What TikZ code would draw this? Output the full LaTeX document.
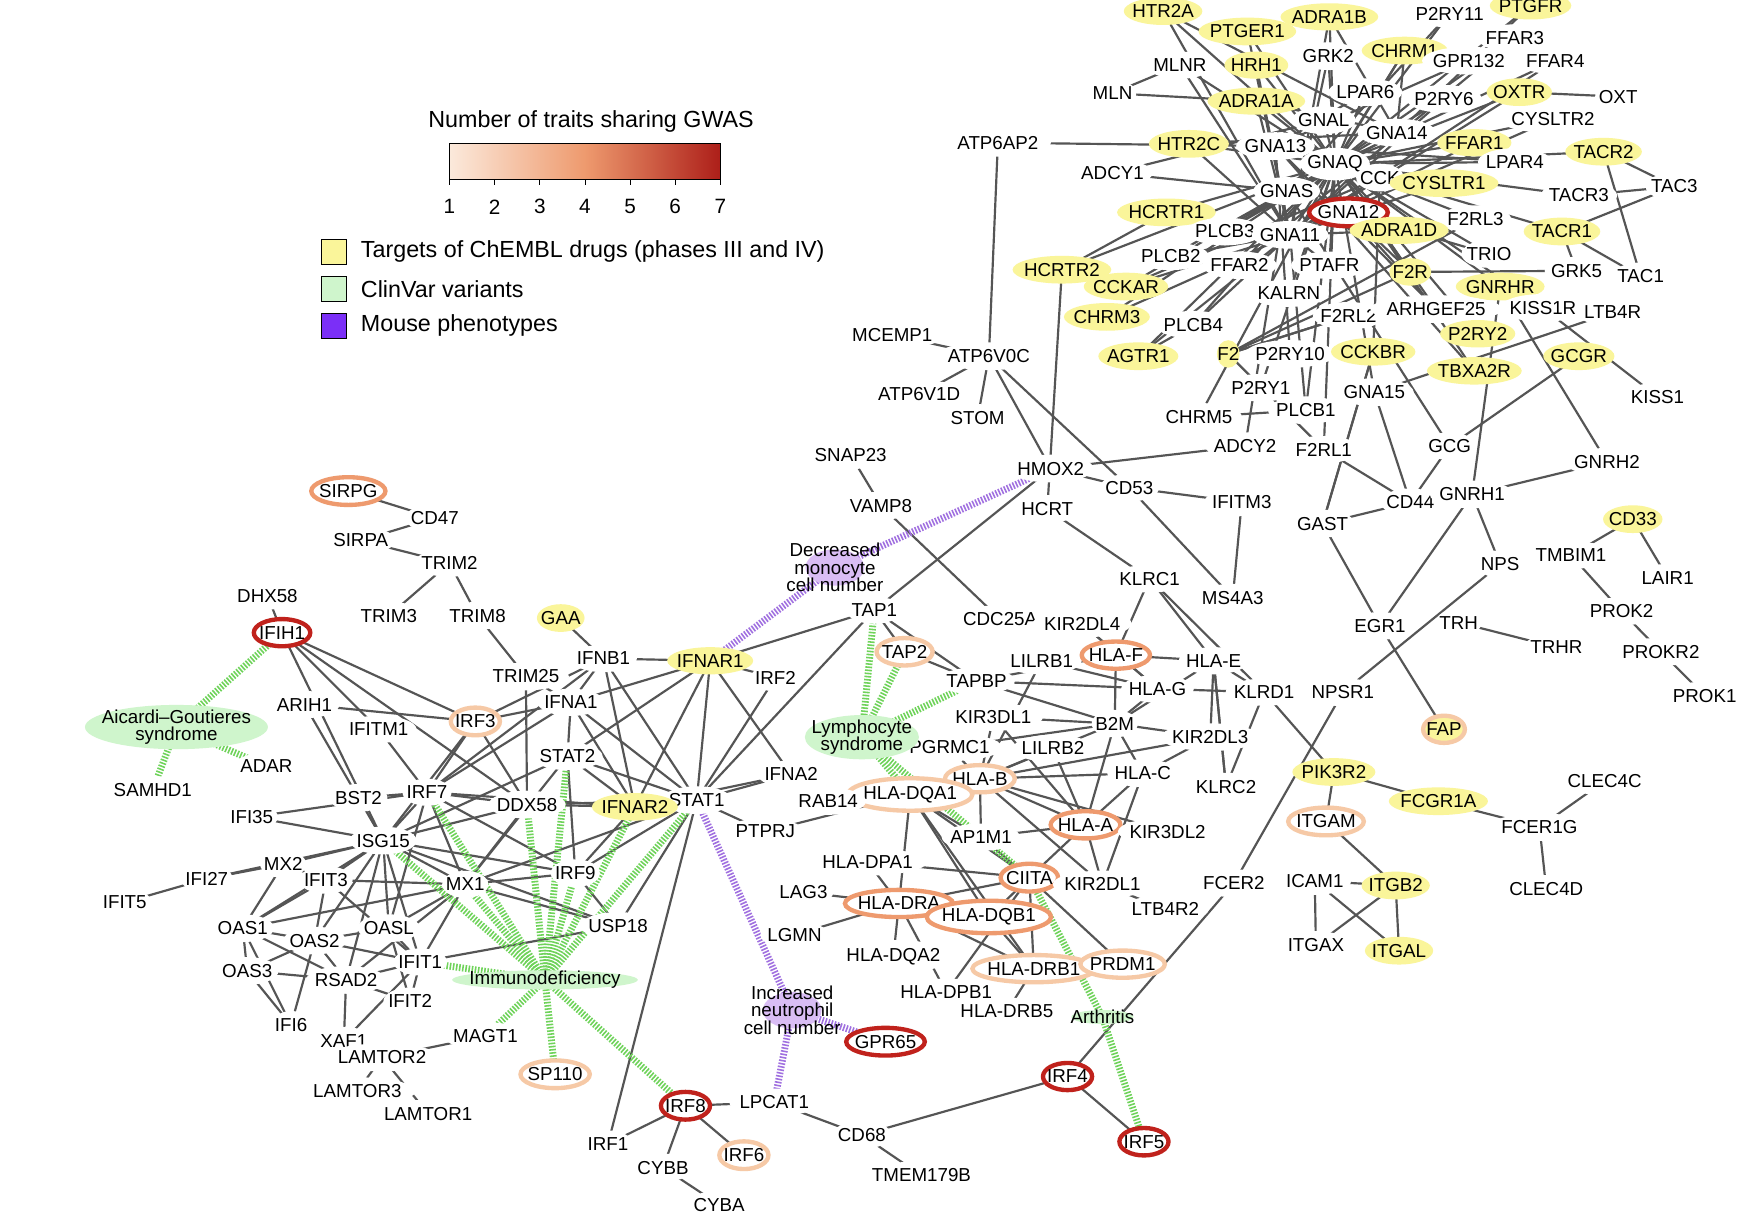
\documentclass[tikz,border=0pt]{standalone}
\usepackage{fontspec}
\setmainfont{Liberation Sans}
\usetikzlibrary{shapes.geometric}
\definecolor{ylw}{HTML}{FAF59A}
\definecolor{rL}{HTML}{F6C9A6}
\definecolor{rM}{HTML}{EE9A6E}
\definecolor{rD}{HTML}{C0221C}
\definecolor{grn}{HTML}{CFF5CC}
\definecolor{gline}{HTML}{6FD35A}
\definecolor{prp}{HTML}{C9A0F0}
\definecolor{pline}{HTML}{A070E0}
\definecolor{edge}{HTML}{555555}
\definecolor{mph}{HTML}{7B2FF7}
\tikzset{
 base/.style={ellipse,inner xsep=-1.5pt,inner ysep=1.6pt,font=\fontsize{9.5}{10}\selectfont},
 pl/.style={base,fill=white},
 ye/.style={base,fill=ylw},
 rl/.style={base,fill=white,draw=rL,line width=2.2pt},
 rm/.style={base,fill=white,draw=rM,line width=2.2pt},
 rd/.style={base,fill=white,draw=rD,line width=2.2pt},
 yr/.style={base,fill=ylw,draw=rL,line width=2.2pt},
 dis/.style={ellipse,fill=grn,align=center,inner xsep=-5pt,inner ysep=-1pt,font=\fontsize{9.5}{9}\selectfont},
 phe/.style={ellipse,fill=prp!70,align=center,inner xsep=-14pt,inner ysep=-6pt,font=\fontsize{9.5}{9}\selectfont},
 ge/.style={draw=edge,line width=1.1pt},
 gr/.style={draw=gline,line width=3.5pt,dash pattern=on 0.8pt off 0.8pt},
 pu/.style={draw=pline,line width=3.5pt,dash pattern=on 0.8pt off 0.8pt},
 lg/.style={font=\fontsize{11.8}{13}\selectfont},
}
\begin{document}
\begin{tikzpicture}[x=0.02cm,y=-0.02cm]
\useasboundingbox (0,0) rectangle (1568,1078);
\fill[white] (0,0) rectangle (1568,1078);
% legend
\node[lg] (lt) at (526,108) {Number of traits sharing GWAS};
\shade[left color=rL!40,right color=rD!90!black,middle color=rM] (400,128) rectangle (641,160);
\draw[line width=0.6pt] (400,128) rectangle (641,160);
\foreach \i in {1,...,7}{\draw (400+40.17*\i-40.17,160) -- ++(0,5); \node[font=\fontsize{10.5}{11}\selectfont] (tk\i) at (400+40.17*\i-40.17,184) {\i};}
\node[draw,fill=ylw,minimum size=0.45cm,inner sep=0pt] (l1) at (297,224) {};
\node[draw,fill=grn,minimum size=0.45cm,inner sep=0pt] (l2) at (297,257) {};
\node[draw,fill=mph,minimum size=0.45cm,inner sep=0pt] (l3) at (297,290) {};
\node[lg,anchor=west] (lt1) at (315,224) {Targets of ChEMBL drugs (phases III and IV)};
\node[lg,anchor=west] (lt2) at (315,257) {ClinVar variants};
\node[lg,anchor=west] (lt3) at (315,290) {Mouse phenotypes};
% coordinates for nodes
\foreach \n/\x/\y in {HTR2A/1035/10,ADRA1B/1183/15,P2RY11/1290/12,PTGFR/1362/5,PTGER1/1110/28,FFAR3/1348/34,MLNR/1050/58,HRH1/1118/58,GRK2/1182/50,CHRM1/1250/45,GPR132/1307/54,FFAR4/1384/54,MLN/990/83,ADRA1A/1118/90,LPAR6/1215/82,P2RY6/1285/88,OXTR/1352/82,OXT/1440/86,GNAL/1178/107,CYSLTR2/1382/106,ATP6AP2/888/127,HTR2C/1058/128,GNA13/1135/130,GNA14/1243/118,FFAR1/1312/127,TACR2/1427/135,LPAR4/1348/144,GNAQ/1188/146,ADCY1/990/154,CCK/1228/158,CYSLTR1/1285/163,TAC3/1490/166,GNAS/1145/170,TACR3/1405/174,HCRTR1/1038/189,GNA12/1200/189,F2RL3/1313/195,PLCB3/1090/206,GNA11/1148/209,ADRA1D/1245/205,TACR1/1390/206,TRIO/1325/226,PLCB2/1042/228,FFAR2/1103/236,PTAFR/1183/236,HCRTR2/945/240,F2R/1255/242,GRK5/1403/241,TAC1/1460/246,CCKAR/1002/255,GNRHR/1335/255,KALRN/1147/261,F2RL2/1200/281,ARHGEF25/1278/275,KISS1R/1373/274,LTB4R/1435/278,CHRM3/985/282,PLCB4/1062/289,P2RY2/1315/297,MCEMP1/794/298,AGTR1/1013/317,F2/1093/315,P2RY10/1148/315,CCKBR/1222/313,ATP6V0C/880/317,GCGR/1405/317,TBXA2R/1312/330,P2RY1/1122/345,GNA15/1223/349,ATP6V1D/818/351,KISS1/1475/353,PLCB1/1162/365,CHRM5/1067/371,STOM/870/372,ADCY2/1108/397,F2RL1/1178/400,GCG/1290/397,HMOX2/935/417,GNRH2/1430/411,CD53/1005/434,SNAP23/757/405,IFITM3/1105/447,CD44/1255/447,GNRH1/1310/440,VAMP8/784/450,HCRT/932/453,GAST/1177/466,CD33/1453/462,NPS/1335/502,TMBIM1/1398/494,KLRC1/1023/515,MS4A3/1097/532,LAIR1/1484/514,TAP1/778/543,CDC25A/890/551,KIR2DL4/963/555,EGR1/1228/557,TRH/1298/554,PROK2/1443/544,TRHR/1385/576,PROKR2/1478/580,TAP2/805/580,LILRB1/927/588,HLA-F/993/583,HLA-E/1080/588,PROK1/1517/619,TAPBP/869/606,HLA-G/1030/613,KLRD1/1125/616,NPSR1/1195/616,KIR3DL1/884/638,B2M/992/644,FAP/1285/649,PGRMC1/845/665,LILRB2/937/666,KIR2DL3/1077/656,PIK3R2/1187/687,CLEC4C/1428/695,HLA-B/872/693,HLA-C/1017/688,KLRC2/1091/700,FCGR1A/1280/713,HLA-DQA1/810/707,HLA-A/966/734,KIR3DL2/1039/740,FCER1G/1370/736,ITGAM/1180/731,AP1M1/873/745,HLA-DPA1/772/767,CIITA/916/781,KIR2DL1/981/787,FCER2/1098/786,ICAM1/1170/784,ITGB2/1242/788,CLEC4D/1376/791,LAG3/715/794,HLA-DRA/800/804,HLA-DQB1/880/816,LTB4R2/1037/809,LGMN/707/832,ITGAX/1171/841,ITGAL/1245/846,HLA-DQA2/795/851,HLA-DRB1/920/862,PRDM1/999/858,HLA-DPB1/842/883,HLA-DRB5/896/900,GPR65/788/927,IRF4/950/958,LPCAT1/689/981,CD68/767/1010,IRF5/1018/1016,TMEM179B/820/1046,PTPRJ/681/740,RAB14/737/713,IFNA2/704/689,IRF2/690/603,STAT1/620/712,IFNAR1/632/588,IFNB1/537/586,IFNA1/508/625,TRIM25/468/602,STAT2/505/673,IFNAR2/565/718,GAA/499/550,SIRPG/310/437,CD47/387/461,SIRPA/321/481,TRIM2/400/501,TRIM3/346/548,TRIM8/425/548,DHX58/238/530,IFIH1/251/563,ARIH1/271/627,IFITM1/337/649,IRF3/423/642,ADAR/237/682,SAMHD1/136/703,BST2/319/710,IRF7/380/705,DDX58/469/716,IFI35/224/727,ISG15/341/748,MX2/252/769,IFI27/184/782,IFIT3/290/783,MX1/414/787,IRF9/512/777,IFIT5/111/803,OAS1/216/826,OAS2/280/837,OASL/346/826,USP18/550/824,IFIT1/374/856,OAS3/220/864,RSAD2/308/872,IFIT2/365/891,IFI6/259/912,XAF1/306/926,MAGT1/432/922,LAMTOR2/340/941,SP110/494/956,LAMTOR3/318/971,LAMTOR1/381/991,IRF8/610/984,IRF1/541/1018,CYBB/590/1039,IRF6/662/1028,CYBA/640/1072,AGS/157/647,IMD/485/872,LYM/767/656,ART/981/905,DMC/743/505,INC/705/899}
  \coordinate (c-\n) at (\x,\y);
% edges (under nodes)
\foreach \a/\b in {MLN/MLNR,MLNR/GNAQ,MLNR/GNA11,HRH1/GNAQ,HRH1/GNA11,HTR2A/GNAQ,HTR2A/GNA11,HTR2A/GNA14,PTGER1/GNAQ,PTGER1/GNA11,ADRA1B/GNAQ,ADRA1B/GNA11,ADRA1B/GNA14,GRK2/GNAQ,GRK2/GNA11,CHRM1/GNAQ,CHRM1/GNA11,CHRM1/GNA14,GPR132/GNA13,P2RY11/GNAS,P2RY11/GNAQ,PTGFR/GNAQ,PTGFR/GNA11,FFAR3/GNAQ,FFAR4/GNAQ,FFAR4/GNA11,OXT/OXTR,OXTR/GNAQ,OXTR/GNA11,LPAR6/GNA13,LPAR6/GNAQ,P2RY6/GNAQ,P2RY6/GNA11,ADRA1A/GNAQ,ADRA1A/GNA11,ADRA1A/GNA14,GNAL/GNAQ,CYSLTR2/GNAQ,CYSLTR2/GNA11,HTR2C/GNAQ,HTR2C/GNA11,HTR2C/GNA14,ATP6AP2/GNA13,ATP6AP2/ATP6V0C,MLN/ADRA1A,FFAR1/GNAQ,FFAR1/GNA11,TACR2/TAC3,TACR2/GNAQ,TACR2/TAC1,LPAR4/GNA13,LPAR4/GNAQ,CCK/CCKAR,CCK/CCKBR,CYSLTR1/GNAQ,CYSLTR1/GNA11,TAC3/TACR3,TAC3/TACR1,TACR3/GNAQ,GNAS/ADCY1,GNAS/ADCY2,ADCY1/GNAL,HCRTR1/GNAQ,HCRTR1/GNA11,HCRTR1/HCRTR2,GNA12/ARHGEF25,GNA12/F2R,GNA12/TRIO,GNA13/ARHGEF25,F2RL3/GNAQ,F2RL3/F2,PLCB3/GNAQ,PLCB3/GNA11,PLCB3/GNA14,ADRA1D/GNAQ,ADRA1D/GNA11,TACR1/TAC1,TACR1/GNAQ,TRIO/GNAQ,PLCB2/GNA11,PLCB2/GNAQ,FFAR2/GNAQ,FFAR2/FFAR3,PTAFR/GNAQ,PTAFR/GNA11,HCRTR2/HCRT,HCRTR2/GNAQ,F2R/F2,F2R/GNAQ,GRK5/TACR1,GRK5/F2R,CCKAR/GNAQ,CCKAR/GNA11,GNRHR/GNRH1,GNRHR/GNRH2,GNRHR/GNAQ,KALRN/GNAQ,F2RL2/F2,ARHGEF25/GNAQ,KISS1R/KISS1,KISS1R/GNAQ,LTB4R/GNA15,CHRM3/GNAQ,CHRM3/GNA11,PLCB4/GNAQ,PLCB4/GNA11,P2RY2/GNAQ,MCEMP1/ATP6V0C,AGTR1/GNAQ,AGTR1/GNA11,AGTR1/PLCB4,F2/F2RL1,F2/F2RL2,P2RY10/GNA13,CCKBR/GAST,ATP6V0C/ATP6V1D,ATP6V0C/STOM,ATP6V0C/HMOX2,ATP6V0C/CD53,GCGR/GCG,TBXA2R/GNAQ,TBXA2R/GNA13,P2RY1/GNAQ,GNA15/GNAQ,GNA15/CD44,CHRM5/GNAQ,CHRM5/PLCB1,PLCB1/GNAQ,PLCB1/GNA11,ADCY2/HMOX2,F2RL1/GNAQ,F2RL1/CD44,GCG/GNAS,GCG/CD44,GNRH2/GNRH1,CD53/IFITM3,CD44/GNRH1,GNRH1/EGR1,GAST/CCKBR,GAST/CD44,CD33/LAIR1,CD33/TMBIM1,NPS/NPSR1,NPS/GNRH1,TMBIM1/PROK2,KLRC1/HLA-E,KLRC1/KLRD1,KLRC1/HLA-F,MS4A3/IFITM3,MS4A3/CD53,EGR1/FAP,EGR1/GAST,TRH/TRHR,PROK2/PROKR2,PROKR2/PROK1,SNAP23/VAMP8,VAMP8/CDC25A,HCRT/KLRC1,HMOX2/TAP1,HMOX2/CD53,KIR2DL4/HLA-G,TAP1/TAP2,TAP1/TAPBP,TAP1/IFNAR1,TAP1/STAT1,TAP2/TAPBP,TAPBP/HLA-F,TAPBP/HLA-G,TAPBP/B2M,LILRB1/HLA-F,LILRB1/HLA-G,LILRB1/HLA-B,HLA-F/B2M,HLA-F/HLA-E,HLA-E/B2M,HLA-E/KLRD1,HLA-E/KLRC2,HLA-G/B2M,HLA-G/KIR2DL4,KIR3DL1/HLA-B,KIR3DL1/B2M,B2M/HLA-A,B2M/HLA-B,B2M/HLA-C,B2M/PGRMC1,LILRB2/HLA-A,LILRB2/HLA-B,KIR2DL3/HLA-C,KIR2DL3/B2M,HLA-C/KIR2DL1,HLA-C/HLA-B,KLRC2/HLA-E,KLRC2/KLRD1,HLA-B/HLA-A,HLA-B/AP1M1,HLA-B/HLA-DQA1,HLA-A/KIR3DL2,HLA-A/CIITA,HLA-A/AP1M1,HLA-A/KIR2DL1,HLA-DQA1/CIITA,HLA-DQA1/HLA-DRA,HLA-DQA1/HLA-DQB1,HLA-DPA1/HLA-DRA,HLA-DPA1/CIITA,CIITA/HLA-DRA,CIITA/HLA-DQB1,CIITA/HLA-DRB1,CIITA/HLA-DPB1,CIITA/PRDM1,LAG3/HLA-DRA,LGMN/HLA-DRA,HLA-DRA/HLA-DQB1,HLA-DRA/HLA-DQA2,HLA-DRA/HLA-DRB1,HLA-DQB1/HLA-DRB1,HLA-DRB1/HLA-DRB5,HLA-DRA/HLA-DPB1,LTB4R2/KIR2DL1,PIK3R2/FCGR1A,PIK3R2/KLRD1,PIK3R2/ITGAM,FCGR1A/FCER1G,FCER1G/CLEC4C,FCER1G/CLEC4D,ITGAM/ITGB2,ITGB2/ICAM1,ITGB2/ITGAL,ITGB2/ITGAX,ICAM1/ITGAL,ICAM1/ITGAX,FCER2/NPSR1,IRF4/FCER2,IRF4/CD68,IRF4/IRF5,CD68/LPCAT1,CD68/TMEM179B,IRF8/IRF1,IRF8/CYBB,IRF8/IRF6,IRF8/LPCAT1,CYBB/CYBA,PTPRJ/HLA-DQA1,RAB14/HLA-DQA1,IFNA2/IFNAR1,IFNA2/STAT1,IFNA2/IFNAR2,IRF2/STAT1,IRF2/IFNAR1,STAT1/IFNAR1,STAT1/IFNAR2,STAT1/STAT2,STAT1/IRF9,STAT1/IRF1,STAT1/PTPRJ,STAT1/DDX58,STAT1/IFNA1,STAT1/IFNB1,STAT1/USP18,STAT1/MX1,IFNAR1/IFNB1,IFNAR1/IFNA1,IFNAR1/IFNAR2,IFNAR1/STAT2,IFNB1/IFNA1,IFNB1/IRF3,IFNB1/IRF7,IFNB1/IFNAR2,IFNA1/IFNAR2,IFNA1/IRF7,IFNA1/STAT2,TRIM25/DDX58,TRIM25/IFNA1,STAT2/IFNAR2,STAT2/IRF9,STAT2/ISG15,STAT2/MX1,GAA/IFNB1,SIRPG/CD47,CD47/SIRPA,SIRPA/TRIM2,TRIM2/TRIM3,TRIM2/TRIM8,TRIM8/TRIM25,DHX58/IFIH1,IFIH1/IRF3,IFIH1/IFITM1,IFIH1/DDX58,IFIH1/ISG15,ARIH1/IRF3,ARIH1/BST2,IFITM1/IRF7,IRF3/IRF7,IRF3/DDX58,IRF3/IFNA1,IRF3/ISG15,BST2/IRF7,BST2/ISG15,IRF7/DDX58,IRF7/ISG15,IRF7/MX1,IRF7/IRF9,IRF7/IFNAR2,IRF7/OASL,DDX58/ISG15,DDX58/IFNAR2,DDX58/MX1,IFI35/ISG15,IFI35/IRF7,ISG15/MX2,ISG15/MX1,ISG15/IFIT3,ISG15/OAS1,ISG15/OAS2,ISG15/OASL,ISG15/IFIT1,ISG15/USP18,ISG15/IRF9,ISG15/RSAD2,MX2/IFIT3,MX2/OAS1,IFI27/MX2,IFI27/ISG15,IFIT3/OAS1,IFIT3/OAS2,IFIT3/IFIT1,IFIT3/MX1,MX1/OASL,MX1/IRF9,MX1/IFIT1,MX1/USP18,MX1/OAS1,MX1/RSAD2,IRF9/USP18,IRF9/IFNAR2,IFIT5/IFI27,OAS1/OAS2,OAS1/OAS3,OAS1/RSAD2,OAS1/IFI6,OAS2/OAS3,OAS2/OASL,OAS2/RSAD2,OAS2/IFIT1,OASL/IFIT1,OASL/IFIT2,USP18/IFIT1,IFIT1/IFIT2,IFIT1/RSAD2,OAS3/RSAD2,OAS3/IFI6,RSAD2/IFIT2,RSAD2/XAF1,IFI6/OAS2,XAF1/IFIT1,MAGT1/LAMTOR2,LAMTOR2/LAMTOR3,LAMTOR2/LAMTOR1,PGRMC1/HLA-B,KIR3DL1/HLA-A,HLA-A/HLA-C,KIR3DL2/HLA-B,HLA-DQA1/AP1M1,AP1M1/CIITA,HLA-DQA1/HLA-DRB1,KIR2DL1/HLA-B,HLA-G/KLRD1,HLA-E/KIR2DL3,KIR2DL3/HLA-B}
  \draw[ge] (c-\a) -- (c-\b);
\foreach \a/\b in {AGS/IFIH1,AGS/ADAR,AGS/SAMHD1,IMD/ISG15,IMD/IRF7,IMD/MX1,IMD/IRF9,IMD/STAT1,IMD/IFNAR2,IMD/STAT2,IMD/DDX58,IMD/MAGT1,IMD/SP110,IMD/IRF8,IMD/IFIT1,LYM/TAP1,LYM/TAP2,LYM/TAPBP,LYM/HLA-DQA1,LYM/CIITA,ART/CIITA,ART/IRF5}
  \draw[gr] (c-\a) -- (c-\b);
\foreach \a/\b in {DMC/HMOX2,DMC/IFNAR1,INC/STAT1,INC/GPR65,INC/LPCAT1}
  \draw[pu] (c-\a) -- (c-\b);
% nodes
\foreach \n/\s in {HTR2A/ye,ADRA1B/ye,P2RY11/pl,PTGFR/ye,PTGER1/ye,FFAR3/pl,MLNR/pl,HRH1/ye,GRK2/pl,CHRM1/ye,GPR132/pl,FFAR4/pl,MLN/pl,ADRA1A/ye,LPAR6/pl,P2RY6/pl,OXTR/ye,OXT/pl,GNAL/pl,CYSLTR2/pl,ATP6AP2/pl,HTR2C/ye,GNA13/pl,GNA14/pl,FFAR1/ye,TACR2/ye,LPAR4/pl,GNAQ/pl,ADCY1/pl,CCK/pl,CYSLTR1/ye,TAC3/pl,GNAS/pl,TACR3/pl,HCRTR1/ye,GNA12/rd,F2RL3/pl,PLCB3/pl,GNA11/pl,ADRA1D/ye,TACR1/ye,TRIO/pl,PLCB2/pl,FFAR2/pl,PTAFR/pl,HCRTR2/ye,F2R/ye,GRK5/pl,TAC1/pl,CCKAR/ye,GNRHR/ye,KALRN/pl,F2RL2/pl,ARHGEF25/pl,KISS1R/pl,LTB4R/pl,CHRM3/ye,PLCB4/pl,P2RY2/ye,MCEMP1/pl,AGTR1/ye,F2/ye,P2RY10/pl,CCKBR/ye,ATP6V0C/pl,GCGR/ye,TBXA2R/ye,P2RY1/pl,GNA15/pl,ATP6V1D/pl,KISS1/pl,PLCB1/pl,CHRM5/pl,STOM/pl,ADCY2/pl,F2RL1/pl,GCG/pl,HMOX2/pl,GNRH2/pl,CD53/pl,SNAP23/pl,IFITM3/pl,CD44/pl,GNRH1/pl,VAMP8/pl,HCRT/pl,GAST/pl,CD33/ye,NPS/pl,TMBIM1/pl,KLRC1/pl,MS4A3/pl,LAIR1/pl,TAP1/pl,CDC25A/pl,KIR2DL4/pl,EGR1/pl,TRH/pl,PROK2/pl,TRHR/pl,PROKR2/pl,TAP2/rl,LILRB1/pl,HLA-F/rm,HLA-E/pl,PROK1/pl,TAPBP/pl,HLA-G/pl,KLRD1/pl,NPSR1/pl,KIR3DL1/pl,B2M/pl,FAP/yr,PGRMC1/pl,LILRB2/pl,KIR2DL3/pl,PIK3R2/ye,CLEC4C/pl,HLA-B/rl,HLA-C/pl,KLRC2/pl,FCGR1A/ye,HLA-DQA1/rl,HLA-A/rm,KIR3DL2/pl,FCER1G/pl,ITGAM/rl,AP1M1/pl,HLA-DPA1/pl,CIITA/rm,KIR2DL1/pl,FCER2/pl,ICAM1/pl,ITGB2/ye,CLEC4D/pl,LAG3/pl,HLA-DRA/rm,HLA-DQB1/rm,LTB4R2/pl,LGMN/pl,ITGAX/pl,ITGAL/ye,HLA-DQA2/pl,HLA-DRB1/rl,PRDM1/rl,HLA-DPB1/pl,HLA-DRB5/pl,GPR65/rd,IRF4/rd,LPCAT1/pl,CD68/pl,IRF5/rd,TMEM179B/pl,PTPRJ/pl,RAB14/pl,IFNA2/pl,IRF2/pl,STAT1/pl,IFNAR1/ye,IFNB1/pl,IFNA1/pl,TRIM25/pl,STAT2/pl,IFNAR2/ye,GAA/ye,SIRPG/rm,CD47/pl,SIRPA/pl,TRIM2/pl,TRIM3/pl,TRIM8/pl,DHX58/pl,IFIH1/rd,ARIH1/pl,IFITM1/pl,IRF3/rl,ADAR/pl,SAMHD1/pl,BST2/pl,IRF7/pl,DDX58/pl,IFI35/pl,ISG15/pl,MX2/pl,IFI27/pl,IFIT3/pl,MX1/pl,IRF9/pl,IFIT5/pl,OAS1/pl,OAS2/pl,OASL/pl,USP18/pl,IFIT1/pl,OAS3/pl,RSAD2/pl,IFIT2/pl,IFI6/pl,XAF1/pl,MAGT1/pl,LAMTOR2/pl,SP110/rl,LAMTOR3/pl,LAMTOR1/pl,IRF8/rd,IRF1/pl,CYBB/pl,IRF6/rl,CYBA/pl}
  \node[\s] (\n) at (c-\n) {\n};
\node[dis] (AGS) at (c-AGS) {Aicardi–Goutieres\\syndrome};
\node[dis] (IMD) at (c-IMD) {Immunodeficiency};
\node[dis] (LYM) at (c-LYM) {Lymphocyte\\syndrome};
\node[dis] (ART) at (c-ART) {Arthritis};
\node[phe] (DMC) at (c-DMC) {Decreased\\monocyte\\cell number};
\node[phe] (INC) at (c-INC) {Increased\\neutrophil\\cell number};
\end{tikzpicture}
\end{document}
